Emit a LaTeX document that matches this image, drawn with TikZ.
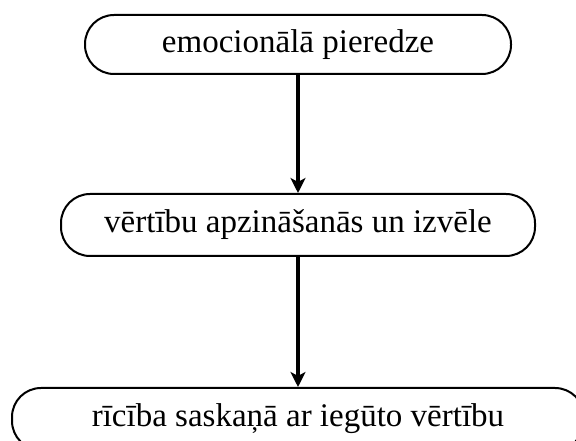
\documentclass[tikz,border=0pt]{standalone}
\usepackage{fontspec}
\setmainfont{Liberation Serif}
\usetikzlibrary{arrows.meta}
\begin{document}
\begin{tikzpicture}[x=1pt,y=1pt,
  stagebox/.style={draw, line width=2pt, rounded corners=29pt, inner sep=0pt,
    font=\fontsize{33}{38}\selectfont},
  flowarrow/.style={line width=3.6pt, -{Stealth[length=15pt,width=15pt,inset=4pt]}}]
\useasboundingbox (0,0) rectangle (576,441);
\clip (0,0) rectangle (576,441);
\node[stagebox, minimum width=426pt, minimum height=59pt] (a) at (298,396.5) {emocionālā pieredze};
\node[stagebox, minimum width=474pt, minimum height=62pt] (b) at (298,216) {vērtību apzināšanās un izvēle};
\node[stagebox, minimum width=572pt, minimum height=62pt] (c) at (298,22) {rīcība saskaņā ar iegūto vērtību};
\draw[flowarrow] (a.south) -- (b.north);
\draw[flowarrow] (b.south) -- (c.north);
\end{tikzpicture}
\end{document}
